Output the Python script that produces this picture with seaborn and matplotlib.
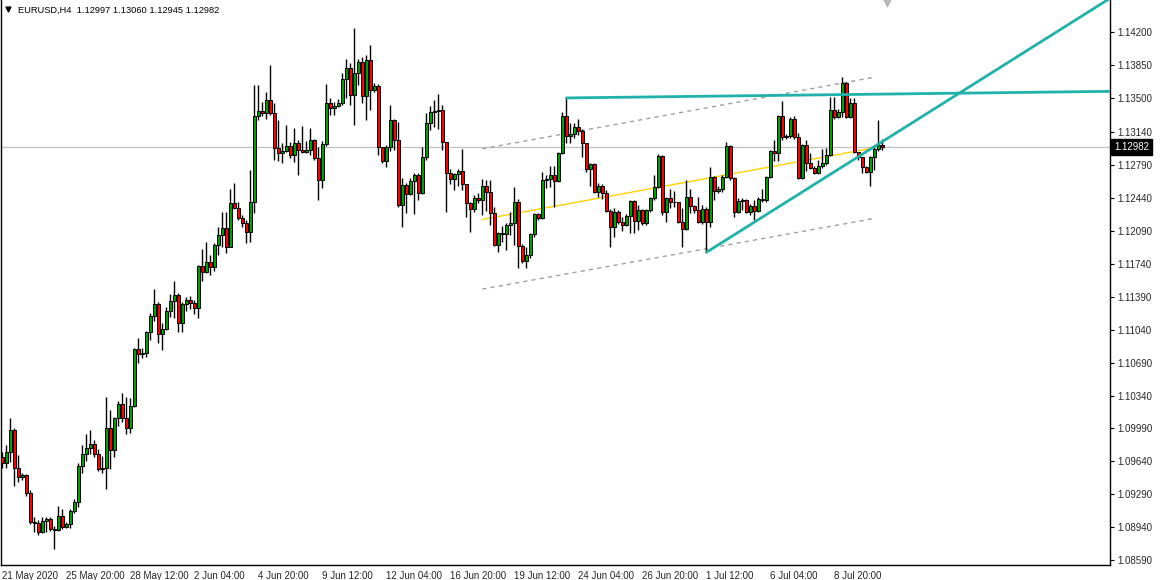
import numpy as np
import pandas as pd
import matplotlib
matplotlib.use("Agg")
import matplotlib.pyplot as plt
import seaborn as sns

# EURUSD H4 bars (open of each bar = previous close)
first_open = 1.0969
close = [
    1.0962, 1.0974, 1.0997, 1.0957, 1.0947, 1.0950, 1.0930, 1.0900, 1.0899, 1.0889,
    1.0901, 1.0903, 1.0892, 1.0891, 1.0906, 1.0894, 1.0898, 1.0911, 1.0921, 1.0959,
    1.0972, 1.0978, 1.0983, 1.0972, 1.0956, 1.0957, 1.0999, 1.0976, 1.1010, 1.1025,
    1.1010, 1.0999, 1.1023, 1.1083, 1.1078, 1.1079, 1.1101, 1.1118, 1.1131, 1.1099,
    1.1105, 1.1124, 1.1134, 1.1141, 1.1111, 1.1131, 1.1135, 1.1132, 1.1127, 1.1171,
    1.1165, 1.1176, 1.1170, 1.1194, 1.1204, 1.1212, 1.1192, 1.1238, 1.1233, 1.1223,
    1.1217, 1.1208, 1.1239, 1.1331, 1.1336, 1.1334, 1.1348, 1.1334, 1.1297, 1.1291,
    1.1294, 1.1299, 1.1289, 1.1302, 1.1295, 1.1293, 1.1295, 1.1305, 1.1286, 1.1263,
    1.1301, 1.1345, 1.1339, 1.1341, 1.1345, 1.1370, 1.1382, 1.1353, 1.1377, 1.1388,
    1.1352, 1.1390, 1.1358, 1.1363, 1.1298, 1.1283, 1.1298, 1.1327, 1.1305, 1.1236,
    1.1258, 1.1248, 1.1262, 1.1268, 1.1249, 1.1287, 1.1323, 1.1335, 1.1336, 1.1337,
    1.1303, 1.1270, 1.1264, 1.1269, 1.1272, 1.1259, 1.1238, 1.1232, 1.1244, 1.1242,
    1.1256, 1.1250, 1.1228, 1.1194, 1.1207, 1.1205, 1.1215, 1.1217, 1.1239, 1.1193,
    1.1177, 1.1183, 1.1206, 1.1227, 1.1223, 1.1263, 1.1264, 1.1268, 1.1262, 1.1292,
    1.1331, 1.1310, 1.1312, 1.1319, 1.1315, 1.1302, 1.1275, 1.1280, 1.1250, 1.1257,
    1.1249, 1.1230, 1.1213, 1.1229, 1.1218, 1.1215, 1.1225, 1.1241, 1.1219, 1.1231,
    1.1217, 1.1231, 1.1244, 1.1255, 1.1288, 1.1229, 1.1244, 1.1239, 1.1240, 1.1218,
    1.1211, 1.1245, 1.1235, 1.1231, 1.1218, 1.1232, 1.1218, 1.1266, 1.1251, 1.1253,
    1.1266, 1.1299, 1.1265, 1.1229, 1.1241, 1.1242, 1.1229, 1.1235, 1.1230, 1.1243,
    1.1242, 1.1266, 1.1294, 1.1291, 1.1331, 1.1309, 1.1310, 1.1328, 1.1309, 1.1265,
    1.1300, 1.1281, 1.1276, 1.1270, 1.1278, 1.1281, 1.1289, 1.1337, 1.1330, 1.1335,
    1.1366, 1.1330, 1.1345, 1.1293, 1.1287, 1.1277, 1.1271, 1.1287, 1.1296, 1.12997,
    1.12982,
]
high = [
    1.0974, 1.0981, 1.1010, 1.0999, 1.0971, 1.0952, 1.0951, 1.0934, 1.0905, 1.0902,
    1.0905, 1.0905, 1.0905, 1.0895, 1.0917, 1.0913, 1.0900, 1.0913, 1.0924, 1.0962,
    1.0981, 1.0993, 1.0997, 1.0987, 1.0977, 1.0970, 1.1032, 1.1019, 1.1011, 1.1028,
    1.1037, 1.1032, 1.1031, 1.1084, 1.1095, 1.1084, 1.1103, 1.1122, 1.1147, 1.1133,
    1.1111, 1.1128, 1.1142, 1.1156, 1.1143, 1.1133, 1.1139, 1.1140, 1.1135, 1.1173,
    1.1190, 1.1197, 1.1183, 1.1196, 1.1213, 1.1229, 1.1229, 1.1253, 1.1260, 1.1239,
    1.1226, 1.1220, 1.1273, 1.1364, 1.1364, 1.1346, 1.1356, 1.1385, 1.1345, 1.1327,
    1.1302, 1.1321, 1.1303, 1.1318, 1.1305, 1.1320, 1.1304, 1.1318, 1.1306, 1.1298,
    1.1304, 1.1365, 1.1350, 1.1346, 1.1349, 1.1377, 1.1391, 1.1387, 1.1424, 1.1391,
    1.1394, 1.1396, 1.1406, 1.1366, 1.1365, 1.1293, 1.1300, 1.1343, 1.1328, 1.1324,
    1.1265, 1.1260, 1.1265, 1.1270, 1.1270, 1.1298, 1.1334, 1.1341, 1.1348, 1.1354,
    1.1343, 1.1303, 1.1275, 1.1270, 1.1275, 1.1296, 1.1259, 1.1239, 1.1247, 1.1249,
    1.1264, 1.1263, 1.1263, 1.1234, 1.1208, 1.1214, 1.1217, 1.1229, 1.1255, 1.1243,
    1.1195, 1.1192, 1.1207, 1.1228, 1.1228, 1.1271, 1.1268, 1.1278, 1.1278, 1.1293,
    1.1335, 1.1350, 1.1323, 1.1323, 1.1328, 1.1317, 1.1302, 1.1281, 1.1281, 1.1260,
    1.1259, 1.1252, 1.1232, 1.1233, 1.1231, 1.1224, 1.1227, 1.1242, 1.1242, 1.1236,
    1.1232, 1.1232, 1.1245, 1.1268, 1.1290, 1.1289, 1.1245, 1.1253, 1.1251, 1.1240,
    1.1233, 1.1263, 1.1253, 1.1236, 1.1245, 1.1236, 1.1234, 1.1277, 1.1267, 1.1257,
    1.1268, 1.1303, 1.1300, 1.1266, 1.1244, 1.1244, 1.1243, 1.1237, 1.1242, 1.1245,
    1.1253, 1.1267, 1.1295, 1.1305, 1.1332, 1.1347, 1.1312, 1.1330, 1.1331, 1.1313,
    1.1301, 1.1305, 1.1291, 1.1278, 1.1284, 1.1296, 1.1297, 1.1351, 1.1351, 1.1338,
    1.1372, 1.1367, 1.1350, 1.1350, 1.1293, 1.1285, 1.1278, 1.1288, 1.1298, 1.1327,
    1.13060,
]
low = [
    1.0957, 1.0957, 1.0963, 1.0938, 1.0942, 1.0944, 1.0927, 1.0898, 1.0889, 1.0886,
    1.0888, 1.0889, 1.0890, 1.0871, 1.0890, 1.0892, 1.0893, 1.0893, 1.0909, 1.0916,
    1.0952, 1.0964, 1.0972, 1.0969, 1.0954, 1.0952, 1.0935, 1.0956, 1.0969, 1.1002,
    1.1006, 1.0993, 1.0994, 1.1022, 1.1069, 1.1074, 1.1075, 1.1093, 1.1113, 1.1090,
    1.1082, 1.1104, 1.1117, 1.1116, 1.1101, 1.1101, 1.1124, 1.1126, 1.1121, 1.1116,
    1.1156, 1.1164, 1.1162, 1.1166, 1.1183, 1.1192, 1.1185, 1.1192, 1.1232, 1.1220,
    1.1213, 1.1196, 1.1197, 1.1228, 1.1327, 1.1331, 1.1328, 1.1332, 1.1284, 1.1283,
    1.1281, 1.1293, 1.1286, 1.1282, 1.1268, 1.1291, 1.1291, 1.1289, 1.1284, 1.1242,
    1.1254, 1.1299, 1.1332, 1.1332, 1.1340, 1.1342, 1.1350, 1.1342, 1.1321, 1.1364,
    1.1345, 1.1327, 1.1337, 1.1356, 1.1289, 1.1281, 1.1277, 1.1294, 1.1295, 1.1234,
    1.1213, 1.1228, 1.1247, 1.1227, 1.1242, 1.1248, 1.1284, 1.1316, 1.1319, 1.1317,
    1.1295, 1.1229, 1.1259, 1.1252, 1.1257, 1.1252, 1.1224, 1.1208, 1.1229, 1.1238,
    1.1226, 1.1230, 1.1215, 1.1193, 1.1186, 1.1197, 1.1188, 1.1204, 1.1194, 1.1169,
    1.1175, 1.1169, 1.1180, 1.1202, 1.1220, 1.1221, 1.1254, 1.1255, 1.1234, 1.1261,
    1.1290, 1.1302, 1.1302, 1.1307, 1.1311, 1.1287, 1.1271, 1.1257, 1.1249, 1.1245,
    1.1243, 1.1229, 1.1192, 1.1202, 1.1216, 1.1209, 1.1214, 1.1207, 1.1207, 1.1210,
    1.1215, 1.1215, 1.1229, 1.1242, 1.1254, 1.1226, 1.1218, 1.1233, 1.1234, 1.1217,
    1.1192, 1.1210, 1.1228, 1.1228, 1.1217, 1.1216, 1.1186, 1.1213, 1.1242, 1.1249,
    1.1250, 1.1265, 1.1263, 1.1224, 1.1228, 1.1231, 1.1228, 1.1226, 1.1220, 1.1229,
    1.1239, 1.1239, 1.1265, 1.1283, 1.1283, 1.1305, 1.1306, 1.1307, 1.1306, 1.1264,
    1.1264, 1.1272, 1.1275, 1.1269, 1.1269, 1.1276, 1.1279, 1.1288, 1.1328, 1.1329,
    1.1330, 1.1329, 1.1329, 1.1291, 1.1284, 1.1270, 1.1270, 1.1256, 1.1273, 1.1294,
    1.12945,
]

date_labels = ["21 May 2020", "25 May 20:00", "28 May 12:00", "2 Jun 04:00",
               "4 Jun 20:00", "9 Jun 12:00", "12 Jun 04:00", "16 Jun 20:00",
               "19 Jun 12:00", "24 Jun 04:00", "26 Jun 20:00", "1 Jul 12:00",
               "6 Jul 04:00", "8 Jul 20:00"]
bars_per_label = 16
price_labels = ["1.14200", "1.13850", "1.13500", "1.13140", "1.12790", "1.12440",
                "1.12090", "1.11740", "1.11390", "1.11040", "1.10690", "1.10340",
                "1.09990", "1.09640", "1.09290", "1.08940", "1.08590"]

# drawn objects (bar index, price)
channel_bars = [120, 218]
channel_mid = [1.1221, 1.1297]
channel_up = [1.1296, 1.1372]
channel_lo = [1.1147, 1.1222]
resist_bars = [141, 277]
resist_px = [1.1350, 1.1357]
support_bars = [176, 277]
support_px = [1.1186, 1.1456]

df = pd.DataFrame({"close": close, "high": high, "low": low})
df["open"] = [first_open] + close[:-1]
df["bar"] = np.arange(len(df))
df["high"] = df[["high", "open", "close"]].max(axis=1)
df["low"] = df[["low", "open", "close"]].min(axis=1)
last = df.iloc[-1]

sns.set_theme(style="white")
plt.rcParams["font.family"] = ["Liberation Sans", "DejaVu Sans"]

W, H = 1162, 580
fig = plt.figure(figsize=(W / 100, H / 100), dpi=100)
fig.patch.set_facecolor("white")
ax = fig.add_axes([1 / W, 1 - 565 / H, 1109 / W, 565 / H])
ax.set_facecolor("white")

x0 = -0.325
ax.set_xlim(x0, x0 + 1109 / 4)
ax.set_ylim(1.08540, 1.14540)

# bid line
ax.axhline(last["close"], color="#c0c0c0", lw=0.9, zorder=1)

# standard deviation channel
for ys, col, ls in [(channel_up, "#a0a0a0", (0, (3, 3))),
                    (channel_lo, "#a0a0a0", (0, (3, 3))),
                    (channel_mid, "#ffd200", "-")]:
    sns.lineplot(x=channel_bars, y=ys, ax=ax, color=col, lw=1.0,
                 linestyle=ls, zorder=2)

# candles
body = (df["close"] - df["open"]).abs().clip(lower=0.000012)
bottom = df[["open", "close"]].min(axis=1)
up = df["close"] >= df["open"]
ax.vlines(df["bar"], df["low"], df["high"], color="black", lw=1.0, zorder=3)
ax.bar(df["bar"][up], body[up], bottom=bottom[up], width=0.62,
       color="#00a000", edgecolor="black", lw=0.7, zorder=4)
ax.bar(df["bar"][~up], body[~up], bottom=bottom[~up], width=0.62,
       color="#ff0000", edgecolor="black", lw=0.7, zorder=4)

# trend lines
sns.lineplot(x=resist_bars, y=resist_px, ax=ax, color="#20b2aa", lw=2.0, zorder=5)
sns.lineplot(x=support_bars, y=support_px, ax=ax, color="#20b2aa", lw=2.0, zorder=5)

# axes styling
for side in ["left", "right", "bottom"]:
    ax.spines[side].set_color("black")
    ax.spines[side].set_linewidth(1.0)
ax.spines["top"].set_visible(False)

ax.set_xticks(np.arange(len(date_labels)) * bars_per_label)
ax.set_xticklabels(date_labels, fontsize=7, ha="left")
ax.tick_params(axis="x", direction="out", length=3, width=0.8, pad=1, color="black")

ax.yaxis.tick_right()
ax.set_yticks([float(p) for p in price_labels])
ax.set_yticklabels(price_labels, fontsize=7)
ax.tick_params(axis="y", direction="out", length=3, width=0.8, pad=2, color="black")
ax.set_xlabel("")
ax.set_ylabel("")
ax.grid(False)

# current price box
ax.text(1.0 + 4 / 1109, last["close"], f"{last['close']:.5f}", transform=ax.get_yaxis_transform(),
        ha="left", va="center", fontsize=7, color="white",
        bbox=dict(boxstyle="square,pad=0.3", fc="black", ec="black"), zorder=10, clip_on=False)

# header
ax.scatter([7 / 1109], [1 - 9 / 565], marker="v", s=12, color="black",
           transform=ax.transAxes, clip_on=False, zorder=10)
ax.text(17 / 1109, 1 - 10 / 565,
        f"EURUSD,H4  {last['open']:.5f} {last['high']:.5f} {last['low']:.5f} {last['close']:.5f}",
        transform=ax.transAxes, ha="left", va="center", fontsize=6.7, color="black")
# chart shift marker
ax.scatter([886 / 1109], [1 - 3 / 565], marker="v", s=22, color="#b8b8b8",
           transform=ax.transAxes, clip_on=False, zorder=10)

fig.savefig("out.png", dpi=100, facecolor="white")
